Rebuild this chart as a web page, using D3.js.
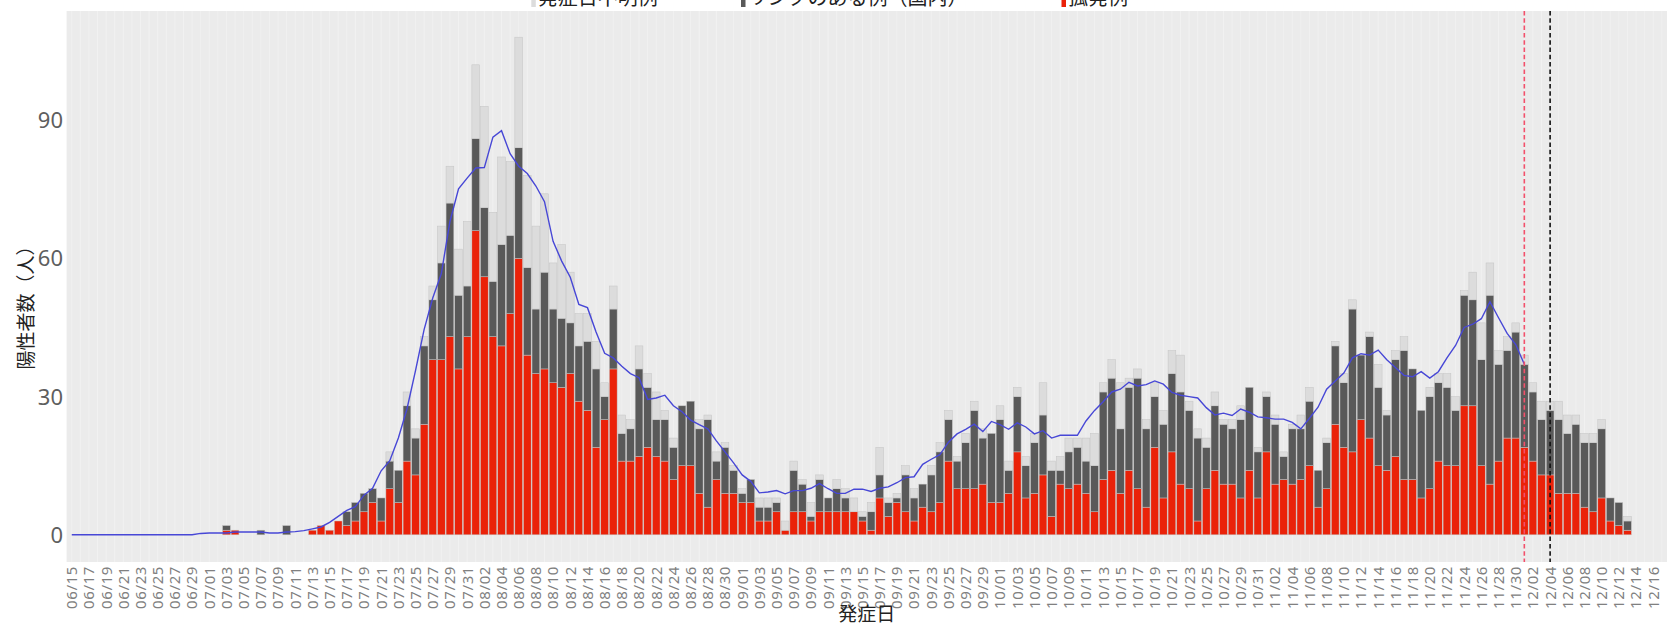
<!DOCTYPE html>
<html>
<head>
<meta charset="utf-8">
<script src="https://cdn.jsdelivr.net/npm/d3@7"></script>
<style>
  body { margin: 0; background: #ffffff; }
  svg { display: block; }
</style>
</head>
<body>
<svg id="chart" width="1667" height="624"></svg>
<script>
// ---- data: daily positives by onset date, 06/15 .. 12/17 ----
const firstDay = new Date(2020, 5, 15);
const lastDay = new Date(2020, 11, 17);

// 孤発例
const sporadic = [
  0,0,0,0,0,0,0,0,0,0, 0,0,0,0,0,0,0,0,1,1,
  0,0,0,0,0,0,0,0,1,2, 1,3,2,3,5,7,3,10,7,16,
  13,24,38,38,43,36,43,66,56,43, 41,48,60,39,35,36,33,32,35,29,
  27,19,25,36,16,16,17,19,17,16, 12,15,15,9,6,12,9,9,7,7,
  3,3,5,1,5,5,3,5,5,5, 5,5,3,1,8,4,7,5,3,6,
  5,7,16,10,10,10,11,7,7,9, 18,8,9,13,4,11,10,11,9,5,
  12,14,9,14,10,6,19,8,18,11, 10,3,10,14,11,11,8,14,8,18,
  11,12,11,12,15,6,10,24,19,18, 25,21,15,14,17,12,12,8,10,16,
  15,15,28,28,15,11,16,21,21,19, 16,13,13,9,9,9,6,5,8,3,
  2,1,0,0,0,0
];
// リンクのある例（国内）
const linked = [
  0,0,0,0,0,0,0,0,0,0, 0,0,0,0,0,0,0,0,1,0,
  0,0,1,0,0,2,0,0,0,0, 0,0,3,4,4,3,5,6,7,12,
  8,17,13,21,29,16,11,20,15,12, 22,17,24,19,14,21,16,15,11,12,
  15,17,5,13,6,7,19,13,8,9, 7,13,14,14,19,4,10,5,2,5,
  3,3,2,0,9,6,1,7,3,5, 3,0,1,4,5,3,1,8,5,5,
  8,11,9,6,10,17,10,15,18,5, 12,7,11,13,10,3,8,8,7,10,
  19,20,14,18,24,17,11,16,17,20, 17,18,9,14,13,12,17,18,10,12,
  13,5,12,11,14,8,10,17,14,31, 14,22,17,12,21,28,24,19,20,17,
  17,12,24,23,23,41,21,19,23,18, 15,12,14,16,13,15,14,15,15,5,
  5,2,0,0,0,0
];
// 発症日不明例
const unknownOnset = [
  0,0,0,0,0,0,0,0,0,0, 0,0,0,0,0,0,0,0,0,0,
  0,0,0,0,0,0,0,0,0,0, 0,0,0,0,0,0,0,2,0,3,
  2,2,3,8,8,10,14,16,22,15, 19,16,24,20,18,17,10,16,11,7,
  6,6,3,5,4,2,5,3,6,2, 2,0,0,2,1,2,1,1,1,0,
  2,2,1,2,2,1,3,1,0,2, 2,3,1,2,6,1,1,2,2,0,
  2,2,2,1,2,2,2,0,3,2, 2,2,2,7,2,3,3,2,5,7,
  2,4,10,2,2,2,3,3,5,8, 2,2,2,3,1,2,3,0,1,1,
  2,1,1,3,3,0,1,1,2,2, 0,1,5,1,2,3,0,0,2,2,
  3,3,1,6,8,7,3,3,2,2, 2,4,2,4,4,2,2,2,2,0,
  0,1,0,0,0,0
];
// 移動平均（06/15 .. 12/01）
const movingAvg = [
  0,0,0,0,0,0,0,0,0,0, 0,0,0,0,0,0.3,0.4,0.4,0.4,0.6,
  0.6,0.6,0.6,0.4,0.4,0.6,0.7,0.9,1.3,1.7, 2.7,4.0,5.3,6.1,8.6,10.1,13.9,16.1,21.0,27.3,
  35.7,44.6,51.4,56.7,68.0,75.1,77.4,79.6,79.7,86.3, 87.7,82.7,80.0,78.4,75.7,72.3,63.7,59.4,55.9,50.0,
  49.3,44.0,39.4,38.4,36.6,35.0,34.1,29.4,29.7,30.3, 28.0,26.7,24.9,23.9,23.0,20.4,18.0,15.6,13.0,11.6,
  9.1,9.3,9.6,8.9,9.6,9.6,10.1,11.1,10.0,9.0, 9.0,9.9,9.9,9.4,10.1,10.4,11.3,12.4,12.6,15.3,
  16.4,17.4,20.1,21.9,22.9,24.0,22.4,24.6,23.9,22.9, 24.3,23.4,21.9,22.6,21.0,21.6,21.6,21.6,24.7,27.0,
  28.9,31.0,31.6,33.1,32.3,32.6,33.4,32.7,30.9,30.3, 30.0,29.7,27.6,26.0,26.4,25.9,27.3,26.6,25.6,25.4,
  25.1,25.1,24.4,23.0,25.3,27.7,31.6,33.4,35.1,38.4, 39.3,39.0,40.1,38.0,36.3,34.6,34.3,35.4,34.0,35.4,
  38.4,41.1,45.0,45.7,46.9,50.6,47.1,43.7,41.3,37.0
];

const yTicks = [0, 30, 60, 90];
const seriesKeys = ["sporadic", "linked", "unknownOnset"];
const legendLabels = ["発症日不明例", "リンクのある例（国内）", "孤発例"];
const markerLines = [
  { date: "12/01", color: "#f2506b" },
  { date: "12/04", color: "#111111" }
];
const xTitle = "発症日";
const yTitle = "陽性者数（人）";

// ---- build table ----
const fmt = d3.timeFormat("%m/%d");
const days = d3.timeDay.range(firstDay, d3.timeDay.offset(lastDay, 1)).map(fmt);
const table = days.map((d, i) => ({
  date: d,
  sporadic: sporadic[i] || 0,
  linked: linked[i] || 0,
  unknownOnset: unknownOnset[i] || 0
}));

// ---- layout ----
const panel = { left: 66.6, right: 1667, top: 11, bottom: 562 };
const colors = { sporadic: "#ea2209", linked: "#595959", unknownOnset: "#dcdcdc" };

const svg = d3.select("#chart");

const x = d3.scalePoint().domain(days).range([panel.left, panel.right]).padding(0.6);
const step = x.step();
const bw = step * 0.9;
const y = d3.scaleLinear().domain([-5.9, 113.68]).range([panel.bottom, panel.top]);

// panel background
svg.append("rect")
  .attr("x", panel.left).attr("y", panel.top)
  .attr("width", panel.right - panel.left).attr("height", panel.bottom - panel.top)
  .attr("fill", "#ebebeb");

// faint vertical grid, one per day
svg.append("g")
  .selectAll("line").data(days).join("line")
  .attr("x1", d => x(d)).attr("x2", d => x(d))
  .attr("y1", panel.top).attr("y2", panel.bottom)
  .attr("stroke", "#f6f6f6").attr("stroke-width", 0.5);

// stacked bars
const stacked = d3.stack().keys(seriesKeys)(table);
svg.append("g")
  .selectAll("g").data(stacked).join("g")
  .attr("fill", s => colors[s.key])
  .selectAll("rect").data(s => s.filter(p => p[1] > p[0])).join("rect")
  .attr("x", p => x(p.data.date) - bw / 2)
  .attr("width", bw)
  .attr("y", p => y(p[1]))
  .attr("height", p => y(p[0]) - y(p[1]))
  .attr("stroke", "#c4c4c4")
  .attr("stroke-width", 0.5);

// moving average line
const line = d3.line()
  .x((v, i) => x(days[i]))
  .y(v => y(v));
svg.append("path")
  .datum(movingAvg)
  .attr("d", line)
  .attr("fill", "none")
  .attr("stroke", "#4747d6")
  .attr("stroke-width", 1.4);

// reference dashed lines
svg.append("g")
  .selectAll("line").data(markerLines).join("line")
  .attr("x1", m => x(m.date)).attr("x2", m => x(m.date))
  .attr("y1", panel.top).attr("y2", panel.bottom)
  .attr("stroke", m => m.color)
  .attr("stroke-width", 1.6)
  .attr("stroke-dasharray", "4.5,2.8");

// y axis labels
svg.append("g")
  .selectAll("text").data(yTicks).join("text")
  .attr("x", 63).attr("y", v => y(v))
  .attr("dy", "0.36em")
  .attr("text-anchor", "end")
  .attr("font-family", "'Noto Sans', sans-serif")
  .attr("font-size", 22)
  .attr("fill", "#5e5e5e")
  .text(v => v);

// x axis labels, every second day
svg.append("g")
  .selectAll("text").data(days.filter((d, i) => i % 2 === 0)).join("text")
  .attr("transform", d => `translate(${x(d)},566) rotate(-90)`)
  .attr("dy", "0.36em")
  .attr("text-anchor", "end")
  .attr("font-family", "'Noto Sans', sans-serif")
  .attr("font-size", 15)
  .attr("letter-spacing", 0.6)
  .attr("fill", "#808080")
  .text(d => d);

// axis titles
svg.append("text")
  .attr("transform", "translate(26,303) rotate(-90)")
  .attr("dy", "0.36em")
  .attr("text-anchor", "middle")
  .attr("font-family", "'Noto Sans CJK JP', sans-serif")
  .attr("font-size", 19)
  .attr("fill", "#222")
  .text(yTitle);

svg.append("text")
  .attr("x", (panel.left + panel.right) / 2).attr("y", 621)
  .attr("text-anchor", "middle")
  .attr("font-family", "'Noto Sans CJK JP', sans-serif")
  .attr("font-size", 19)
  .attr("fill", "#222")
  .text(xTitle);

// legend (top strip)
const legendKeys = ["unknownOnset", "linked", "sporadic"];
const legendX = [531.3, 741, 1061.5];
const legend = svg.append("g");
legendKeys.forEach((k, i) => {
  legend.append("rect")
    .attr("x", legendX[i]).attr("y", -14)
    .attr("width", 4.5).attr("height", 21)
    .attr("fill", colors[k]);
  legend.append("text")
    .attr("x", legendX[i] + 6.5).attr("y", 5)
    .attr("font-family", "'Noto Sans CJK JP', sans-serif")
    .attr("font-size", 20)
    .attr("fill", "#222")
    .text(legendLabels[i]);
});
</script>
</body>
</html>
